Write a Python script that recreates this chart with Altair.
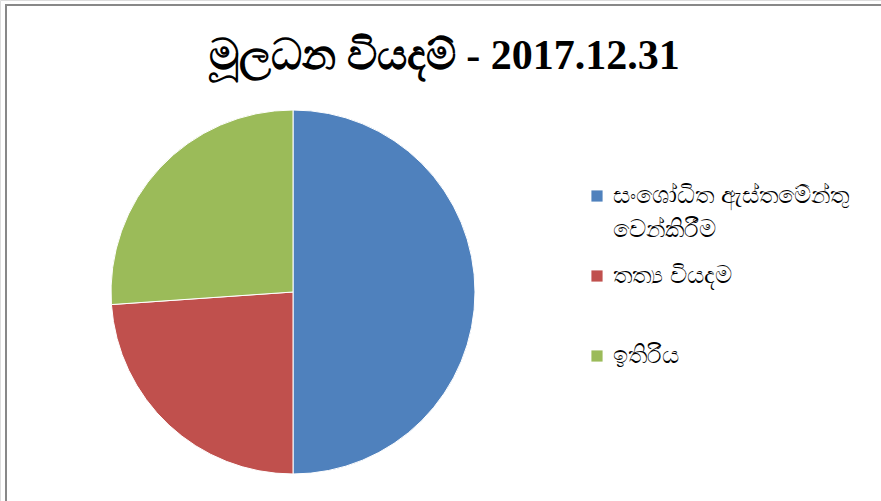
import altair as alt
import pandas as pd

categories = ["සංශෝධිත ඇස්තමේන්තු වෙන්කිරීම", "තත්‍ය වියදම", "ඉතිරිය"]
label_lines = [["සංශෝධිත ඇස්තමේන්තු", "වෙන්කිරීම"], ["තත්‍ය වියදම", " "], ["ඉතිරිය", " "]]
values = [50.0, 23.9, 26.1]
colors = ["#4F81BD", "#C0504D", "#9BBB59"]
title_text = "මූලධන වියදම් - 2017.12.31"

df = pd.DataFrame({"category": categories, "value": values, "order": [0, 1, 2]})

expr_parts = []
for cat, lines in zip(categories, label_lines):
    expr_parts.append("datum.label == '" + cat + "' ? ['" + lines[0] + "', '" + lines[1] + "'] : ")
label_expr = "".join(expr_parts) + "datum.label"

W, H = 881, 501

pie = (
    alt.Chart(df)
    .mark_arc(stroke="white", strokeWidth=1, outerRadius=182)
    .encode(
        theta=alt.Theta("value:Q", stack=True),
        order=alt.Order("order:Q"),
        x=alt.value(293),
        y=alt.value(292),
        color=alt.Color(
            "category:N",
            sort=categories,
            scale=alt.Scale(domain=categories, range=colors),
            legend=alt.Legend(
                title=None,
                orient="none",
                legendX=585,
                legendY=184,
                symbolType="square",
                symbolSize=125,
                symbolStrokeWidth=0,
                labelFontSize=24,
                labelColor="#000000",
                labelLimit=400,
                labelOffset=4,
                labelExpr=label_expr,
                rowPadding=22,
                padding=0,
            ),
        ),
    )
)

border_df = pd.DataFrame({"k": [0]})
top_rule = alt.Chart(border_df).mark_rule(color="#888888", strokeWidth=2).encode(
    x=alt.value(5), x2=alt.value(W), y=alt.value(5)
)
left_rule = alt.Chart(border_df).mark_rule(color="#888888", strokeWidth=2).encode(
    x=alt.value(6), y=alt.value(4), y2=alt.value(H)
)

chart = (
    alt.layer(pie, top_rule, left_rule)
    .properties(
        width=W,
        height=H,
        padding=0,
        autosize=alt.AutoSizeParams(type="none"),
        title=alt.TitleParams(
            title_text,
            font="Liberation Serif",
            fontSize=42,
            fontWeight="bold",
            color="#000000",
            anchor="middle",
            dx=4,
            offset=-78,
        ),
    )
    .configure_view(stroke=None)
    .configure(style={"guide-label": {"lineHeight": 34}})
)

chart.save("out.html", embed_options={"renderer": "svg", "actions": False})
